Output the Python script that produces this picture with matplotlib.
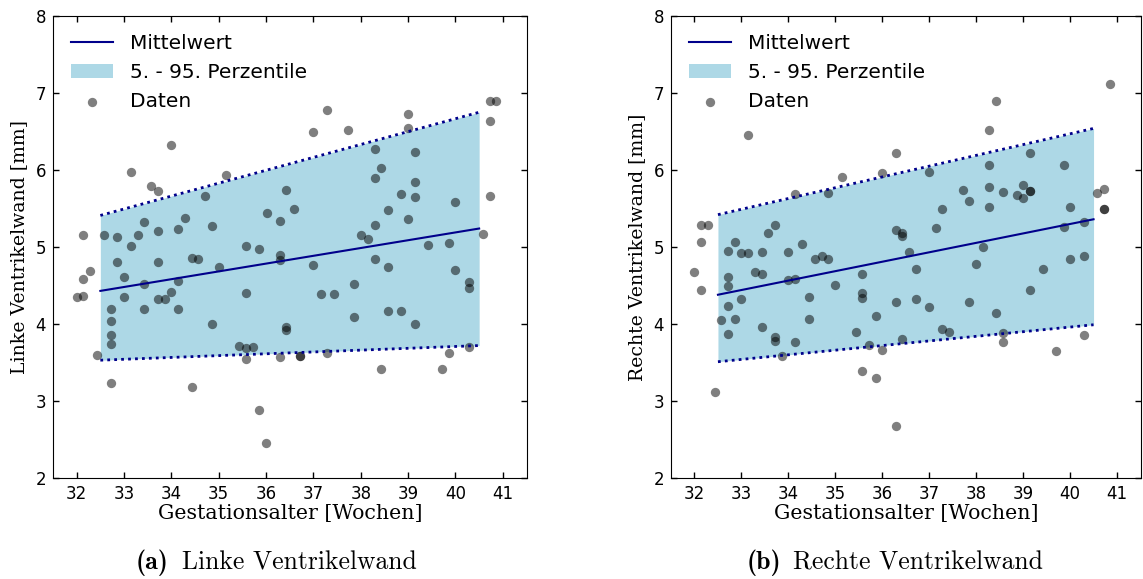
import numpy as np
import matplotlib
matplotlib.use("Agg")
import matplotlib.pyplot as plt

# Gestationsalter [Wochen] und Wanddicke [mm]
left_weeks = [40.72, 40.86, 40.72, 37.29, 37.0, 37.72, 39.0, 39.0, 34.0, 38.29,
              39.15, 33.15, 35.15, 38.43, 38.29, 39.15, 33.57, 33.72, 34.71, 36.43,
              38.86, 39.15, 40.72, 40.0, 36.58, 36.01, 38.57, 33.43, 34.28, 36.29,
              39.0, 38.29, 32.14, 32.58, 32.86, 33.29, 33.72, 34.14, 34.86, 38.0,
              38.15, 40.58, 39.43, 39.86, 33.15, 35.58, 35.86, 32.86, 33.72, 34.43,
              34.57, 35.0, 36.29, 36.29, 37.0, 38.29, 38.57, 40.0, 32.29, 32.14,
              33.0, 33.43, 34.14, 34.0, 32.0, 32.14, 33.0, 33.72, 33.86, 35.58,
              37.15, 37.43, 37.86, 40.29, 40.29, 32.72, 32.72, 32.72, 32.72, 33.43,
              34.14, 34.86, 36.43, 36.43, 37.86, 38.57, 38.86, 39.15, 35.43, 35.58,
              35.72, 32.43, 35.58, 36.29, 36.72, 36.72, 37.29, 39.86, 40.29, 38.43,
              39.72, 32.72, 34.43, 35.86, 36.0]
left_vals = [6.90, 6.90, 6.63, 6.78, 6.50, 6.52, 6.73, 6.55, 6.32, 6.27,
             6.24, 5.98, 5.94, 6.03, 5.90, 5.84, 5.79, 5.73, 5.66, 5.74,
             5.69, 5.65, 5.66, 5.59, 5.50, 5.44, 5.48, 5.33, 5.38, 5.34,
             5.37, 5.29, 5.15, 5.15, 5.13, 5.15, 5.21, 5.24, 5.27, 5.15,
             5.10, 5.17, 5.02, 5.05, 5.01, 5.01, 4.98, 4.80, 4.80, 4.86,
             4.85, 4.74, 4.89, 4.83, 4.76, 4.85, 4.74, 4.70, 4.69, 4.59,
             4.61, 4.52, 4.56, 4.42, 4.35, 4.36, 4.35, 4.33, 4.32, 4.40,
             4.39, 4.39, 4.52, 4.55, 4.47, 4.20, 4.04, 3.86, 3.74, 4.20,
             4.19, 4.00, 3.96, 3.92, 4.09, 4.17, 4.17, 4.00, 3.71, 3.69,
             3.70, 3.60, 3.54, 3.57, 3.59, 3.59, 3.62, 3.62, 3.70, 3.42,
             3.42, 3.23, 3.18, 2.88, 2.45]

right_weeks = [40.86, 38.43, 33.14, 38.28, 36.29, 39.15, 38.28, 39.86, 35.14, 36.0,
               37.0, 34.14, 34.85, 37.71, 37.85, 38.28, 38.57, 38.86, 39.0, 39.0,
               39.15, 39.15, 40.57, 40.72, 40.72, 40.72, 40.0, 38.28, 37.28, 32.14,
               32.29, 33.71, 33.57, 36.29, 36.43, 36.43, 37.14, 39.86, 40.29, 32.14,
               32.86, 34.28, 38.14, 32.71, 33.0, 33.14, 33.43, 34.0, 34.57, 34.71,
               34.85, 36.57, 36.71, 38.0, 39.43, 40.0, 40.29, 32.0, 32.14, 32.71,
               32.71, 33.28, 33.43, 34.0, 34.14, 35.0, 35.57, 35.57, 35.57, 36.29,
               36.71, 37.0, 37.85, 33.0, 34.43, 32.71, 32.57, 32.86, 34.43, 35.86,
               38.43, 39.15, 33.43, 32.71, 33.71, 33.71, 34.14, 35.43, 35.72, 36.0,
               36.43, 37.28, 37.43, 38.57, 38.57, 33.86, 39.71, 40.29, 35.57, 35.86,
               32.43, 36.29]
right_vals = [7.12, 6.89, 6.45, 6.52, 6.22, 6.22, 6.07, 6.07, 5.91, 5.96,
              5.98, 5.69, 5.70, 5.74, 5.60, 5.78, 5.71, 5.68, 5.80, 5.63,
              5.73, 5.73, 5.70, 5.75, 5.49, 5.49, 5.52, 5.52, 5.49, 5.28,
              5.28, 5.28, 5.18, 5.22, 5.18, 5.14, 5.25, 5.26, 5.32, 5.06,
              5.06, 5.04, 5.00, 4.95, 4.92, 4.92, 4.94, 4.93, 4.85, 4.88,
              4.84, 4.94, 4.71, 4.78, 4.72, 4.85, 4.88, 4.67, 4.44, 4.61,
              4.50, 4.67, 4.65, 4.57, 4.58, 4.51, 4.65, 4.40, 4.34, 4.29,
              4.32, 4.22, 4.29, 4.33, 4.35, 4.23, 4.05, 4.06, 4.06, 4.10,
              4.14, 4.44, 3.96, 3.87, 3.83, 3.78, 3.77, 3.89, 3.73, 3.66,
              3.81, 3.94, 3.89, 3.88, 3.76, 3.58, 3.65, 3.86, 3.39, 3.30,
              3.12, 2.68]

# Regression (Endpunkte bei 32.5 und 40.5 Wochen)
band_x = [32.5, 40.5]
left_mean = [4.43, 5.24]
left_p5 = [3.53, 3.72]
left_p95 = [5.41, 6.75]
right_mean = [4.38, 5.36]
right_p5 = [3.51, 3.99]
right_p95 = [5.42, 6.54]

x_ticks = list(range(32, 42))
y_ticks = list(range(2, 9))

fig = plt.figure(figsize=(11.43, 5.79), dpi=100)
W, H = 1143.0, 579.0


def panel(rect, weeks, vals, mean, p5, p95, ylabel):
    ax = fig.add_axes(rect)
    ax.fill_between(band_x, p5, p95, color='lightblue', lw=0,
                    label='5. - 95. Perzentile')
    ax.plot(band_x, mean, color='darkblue', lw=1.5, label='Mittelwert')
    ax.plot(band_x, p5, color='darkblue', lw=2, ls=(0, (1, 1.5)))
    ax.plot(band_x, p95, color='darkblue', lw=2, ls=(0, (1, 1.5)))
    ax.scatter(weeks, vals, s=45, color='k', alpha=0.5, lw=0, label='Daten')
    ax.set_xlim(31.5, 41.5)
    ax.set_ylim(2, 8)
    ax.set_xticks(x_ticks)
    ax.set_yticks(y_ticks)
    ax.tick_params(direction='in', top=True, right=True, length=4, width=1,
                   labelsize=12, pad=5)
    ax.set_xlabel('Gestationsalter [Wochen]', family='DejaVu Serif', fontsize=14.8,
                  labelpad=1)
    ax.set_ylabel(ylabel, family='DejaVu Serif', fontsize=13.6, labelpad=5)
    h, l = ax.get_legend_handles_labels()
    order = [l.index('Mittelwert'), l.index('5. - 95. Perzentile'), l.index('Daten')]
    ax.legend([h[i] for i in order], [l[i] for i in order], loc='upper left',
              frameon=False, fontsize=14.5, handlelength=2.1, borderaxespad=0.5)
    return ax


panel([53 / W, 1 - 478 / H, 473.5 / W, 462 / H], left_weeks, left_vals,
      left_mean, left_p5, left_p95, 'Linke Ventrikelwand [mm]')
panel([671 / W, 1 - 478 / H, 469.5 / W, 462 / H], right_weeks, right_vals,
      right_mean, right_p5, right_p95, 'Rechte Ventrikelwand [mm]')

cap_y = 1 - 563 / H
fig.text(168 / W, cap_y, '(a)', family='cmb10', fontsize=18.7, ha='right', va='center')
fig.text(182 / W, cap_y, 'Linke Ventrikelwand', family='cmr10', fontsize=18.5,
         ha='left', va='center')
fig.text(781 / W, cap_y, '(b)', family='cmb10', fontsize=18.7, ha='right', va='center')
fig.text(793 / W, cap_y, 'Rechte Ventrikelwand', family='cmr10', fontsize=18.5,
         ha='left', va='center')

fig.savefig('out.png', dpi=100)
